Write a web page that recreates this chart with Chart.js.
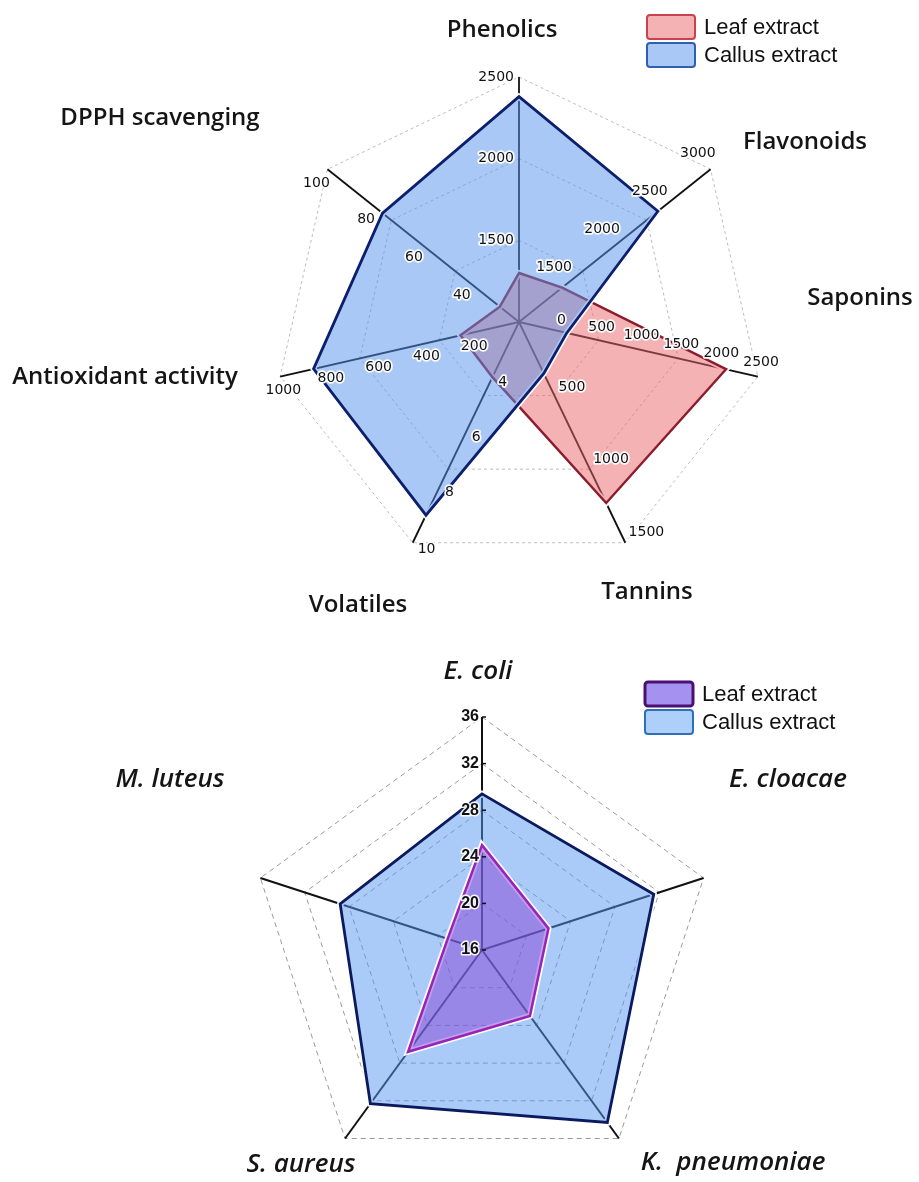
<!DOCTYPE html>
<html>
<head>
<meta charset="utf-8">
<script src="https://cdn.jsdelivr.net/npm/chart.js@4.4.1/dist/chart.umd.min.js"></script>
<style>
  html, body { margin: 0; padding: 0; background: #fff; width: 919px; height: 1182px; overflow: hidden; }
  canvas { position: absolute; left: 0; }
  #profile { top: 0; }
  #zones { top: 560px; }
</style>
</head>
<body>
<canvas id="profile" width="919" height="620"></canvas>
<canvas id="zones" width="919" height="700"></canvas>
<script>
// ---- Phytochemical profile (each axis has its own range) ----
const profileAxes   = ['Phenolics', 'Flavonoids', 'Saponins', 'Tannins', 'Volatiles', 'Antioxidant activity', 'DPPH scavenging'];
const profileLeaf   = [1300, 1450, 2100, 1230, 4, 245, 28];
const profileCallus = [2380, 2450, 100, 350, 9, 860, 77];
const profileMin    = [1000, 1000, -500, 0, 2, 0, 20];
const profileMax    = [2500, 3000, 2500, 1500, 10, 1000, 100];

const phenolicsTicks   = [1500, 2000, 2500];
const flavonoidsTicks  = [1500, 2000, 2500, 3000];
const saponinsTicks    = [0, 500, 1000, 1500, 2000, 2500];
const tanninsTicks     = [500, 1000, 1500];
const volatilesTicks   = [4, 6, 8, 10];
const antioxidantTicks = [200, 400, 600, 800, 1000];
const dpphTicks        = [40, 60, 80, 100];
const profileTicks = [phenolicsTicks, flavonoidsTicks, saponinsTicks, tanninsTicks, volatilesTicks, antioxidantTicks, dpphTicks];

// ---- Antibacterial activity ----
const microbes   = ['E. coli', 'E. cloacae', 'K.  pneumoniae', 'S. aureus', 'M. luteus'];
const zoneLeaf   = [25, 22, 23, 26.8, 19.1];
const zoneCallus = [29.4, 31.5, 34.3, 32.3, 28.8];
const zoneMin = 16, zoneMax = 36, zoneStep = 4;

const seriesNames = ['Leaf extract', 'Callus extract'];

// the profile chart plots every axis on a shared 0..3 ring scale
const RINGS = 3;
const toRing = (v, i) => RINGS * (v - profileMin[i]) / (profileMax[i] - profileMin[i]);

// ---- shared drawing helpers ----
const spokeHalo = {
  id: 'spokeHalo',
  beforeDraw(chart, args, opts) {
    const s = chart.scales.r, ctx = chart.ctx;
    ctx.save();
    ctx.strokeStyle = '#ffffff';
    ctx.lineWidth = opts.width;
    for (let i = 0; i < chart.data.labels.length; i++) {
      const p = s.getPointPosition(i, s.drawingArea);
      ctx.beginPath();
      ctx.moveTo(s.xCenter, s.yCenter);
      ctx.lineTo(p.x, p.y);
      ctx.stroke();
    }
    ctx.restore();
  }
};

const axisTitles = {
  id: 'axisTitles',
  afterDraw(chart, args, opts) {
    const s = chart.scales.r, ctx = chart.ctx;
    ctx.save();
    ctx.font = opts.font;
    ctx.fillStyle = '#151515';
    ctx.textAlign = 'center';
    ctx.textBaseline = 'middle';
    chart.data.labels.forEach((lab, i) => {
      const o = opts.spots[i];
      ctx.fillText(lab, s.xCenter + o[0], s.yCenter + o[1]);
    });
    ctx.restore();
  }
};

const boxLegend = {
  id: 'boxLegend',
  afterDraw(chart, args, opts) {
    const s = chart.scales.r, ctx = chart.ctx;
    const x0 = s.xCenter + opts.at[0], y0 = s.yCenter + opts.at[1];
    ctx.save();
    ctx.font = '22px "Liberation Sans", Arial, sans-serif';
    ctx.textBaseline = 'middle';
    ctx.textAlign = 'left';
    opts.items.forEach((it, k) => {
      const y = y0 + k * 28;
      ctx.beginPath();
      if (ctx.roundRect) ctx.roundRect(x0, y, 48, 24, 3); else ctx.rect(x0, y, 48, 24);
      ctx.fillStyle = '#ffffff';
      ctx.fill();
      ctx.fillStyle = it.fill;
      ctx.fill();
      ctx.lineWidth = it.lineWidth;
      ctx.strokeStyle = it.stroke;
      ctx.stroke();
      ctx.fillStyle = '#111';
      ctx.fillText(it.text, x0 + 57, y + 13);
    });
    ctx.restore();
  }
};

// per-axis tick labels of the profile chart, set beside each spoke
const profileTickLabels = {
  id: 'profileTickLabels',
  afterDatasetsDraw(chart) {
    const s = chart.scales.r, ctx = chart.ctx;
    ctx.save();
    ctx.font = '14px "DejaVu Sans", Verdana, sans-serif';
    ctx.textAlign = 'center';
    ctx.textBaseline = 'middle';
    ctx.lineJoin = 'round';
    profileTicks.forEach((ticks, i) => {
      const a = s.getIndexAngle(i) - Math.PI / 2;
      const dx = Math.cos(a), dy = Math.sin(a);
      const px = dy, py = -dx;
      ticks.forEach(t => {
        const label = String(t);
        const p = s.getPointPositionForValue(i, toRing(t, i));
        const w = ctx.measureText(label).width, h = 11;
        const k = 5 + Math.abs(px) * w / 2 + Math.abs(py) * h / 2;
        const x = p.x + px * k, y = p.y + py * k;
        ctx.strokeStyle = 'rgba(255,255,255,0.95)';
        ctx.lineWidth = 3.5;
        ctx.strokeText(label, x, y);
        ctx.fillStyle = '#111';
        ctx.fillText(label, x, y);
      });
    });
    ctx.restore();
  }
};

// tick labels of the inhibition-zone chart
const zoneTickLabels = {
  id: 'zoneTickLabels',
  afterDatasetsDraw(chart) {
    const s = chart.scales.r, ctx = chart.ctx;
    ctx.save();
    ctx.font = 'bold 16px "Liberation Sans", Arial, sans-serif';
    ctx.textAlign = 'right';
    ctx.textBaseline = 'middle';
    ctx.lineJoin = 'round';
    s.ticks.forEach(tk => {
      const y = s.yCenter - s.getDistanceFromCenterForValue(tk.value);
      ctx.strokeStyle = '#111';
      ctx.lineWidth = 1.5;
      ctx.beginPath();
      ctx.moveTo(s.xCenter, y);
      ctx.lineTo(s.xCenter + 4, y);
      ctx.stroke();
      ctx.strokeStyle = 'rgba(255,255,255,0.9)';
      ctx.lineWidth = 3;
      ctx.strokeText(String(tk.value), s.xCenter - 3, y);
      ctx.fillStyle = '#111';
      ctx.fillText(String(tk.value), s.xCenter - 3, y);
    });
    ctx.restore();
  }
};

const haloSet = (data, order) => ({
  data, order, fill: false, borderColor: 'rgba(255,255,255,0.95)', borderWidth: 6,
  pointRadius: 0, pointHoverRadius: 0
});

// ---- chart 1: phytochemical profile ----
const leafRing = profileLeaf.map(toRing);
const callusRing = profileCallus.map(toRing);

new Chart(document.getElementById('profile'), {
  type: 'radar',
  data: {
    labels: profileAxes,
    datasets: [
      haloSet(leafRing, 4),
      { label: seriesNames[0], data: leafRing, order: 3, fill: true,
        backgroundColor: 'rgba(233,101,105,0.5)', borderColor: '#8c1d2c', borderWidth: 2.5,
        pointRadius: 0, pointHoverRadius: 0 },
      haloSet(callusRing, 2),
      { label: seriesNames[1], data: callusRing, order: 1, fill: true,
        backgroundColor: 'rgba(85,145,235,0.5)', borderColor: '#0c1f6c', borderWidth: 2.8,
        pointRadius: 0, pointHoverRadius: 0 }
    ]
  },
  options: {
    responsive: false,
    animation: false,
    devicePixelRatio: 1,
    layout: { padding: { left: 274, top: 77, right: 155, bottom: 53 } },
    elements: { line: { tension: 0, borderJoinStyle: 'miter' } },
    scales: {
      r: {
        min: 0, max: RINGS,
        ticks: { display: false, stepSize: 1 },
        pointLabels: { display: false },
        grid: { color: '#bdbdbd', lineWidth: 1 },
        border: { dash: [3, 3] },
        angleLines: { color: '#111', lineWidth: 1.8 }
      }
    },
    plugins: {
      legend: { display: false },
      tooltip: { enabled: false },
      spokeHalo: { width: 5 },
      axisTitles: {
        font: '600 24px "Open Sans", sans-serif',
        spots: [[-17, -292], [286, -180], [341, -24], [128, 270], [-161, 283], [-394, 55], [-359, -204]]
      },
      boxLegend: {
        at: [128, -307],
        items: [
          { text: seriesNames[0], fill: 'rgba(233,101,105,0.5)', stroke: '#c9434f', lineWidth: 2 },
          { text: seriesNames[1], fill: 'rgba(85,145,235,0.5)', stroke: '#2f5fae', lineWidth: 2 }
        ]
      }
    }
  },
  plugins: [spokeHalo, profileTickLabels, axisTitles, boxLegend]
});

// ---- chart 2: inhibition zones ----
new Chart(document.getElementById('zones'), {
  type: 'radar',
  data: {
    labels: microbes,
    datasets: [
      haloSet(zoneLeaf, 2),
      { label: seriesNames[0], data: zoneLeaf, order: 1, fill: true,
        backgroundColor: 'rgba(135,70,215,0.5)', borderColor: '#9a22b4', borderWidth: 2.5,
        pointRadius: 0, pointHoverRadius: 0 },
      haloSet(zoneCallus, 4),
      { label: seriesNames[1], data: zoneCallus, order: 3, fill: true,
        backgroundColor: 'rgba(85,150,240,0.5)', borderColor: '#0b1a5e', borderWidth: 2.8,
        pointRadius: 0, pointHoverRadius: 0 }
    ]
  },
  options: {
    responsive: false,
    animation: false,
    devicePixelRatio: 1,
    layout: { padding: { left: 249, top: 157, right: 204, bottom: 77 } },
    elements: { line: { tension: 0, borderJoinStyle: 'miter' } },
    scales: {
      r: {
        min: zoneMin, max: zoneMax,
        ticks: { display: false, stepSize: zoneStep },
        pointLabels: { display: false },
        grid: { color: '#9a9a9a', lineWidth: 1 },
        border: { dash: [5, 4] },
        angleLines: { color: '#111', lineWidth: 2 }
      }
    },
    plugins: {
      legend: { display: false },
      tooltip: { enabled: false },
      spokeHalo: { width: 5 },
      axisTitles: {
        font: 'italic 600 26px "Open Sans", sans-serif',
        spots: [[-4, -278], [306, -170], [251, 213], [-181, 215], [-312, -170]]
      },
      boxLegend: {
        at: [163, -268],
        items: [
          { text: seriesNames[0], fill: 'rgba(135,110,235,0.75)', stroke: '#4a0f73', lineWidth: 3 },
          { text: seriesNames[1], fill: 'rgba(120,175,245,0.6)', stroke: '#2f6fb8', lineWidth: 2 }
        ]
      }
    }
  },
  plugins: [spokeHalo, zoneTickLabels, axisTitles, boxLegend]
});
</script>
</body>
</html>
